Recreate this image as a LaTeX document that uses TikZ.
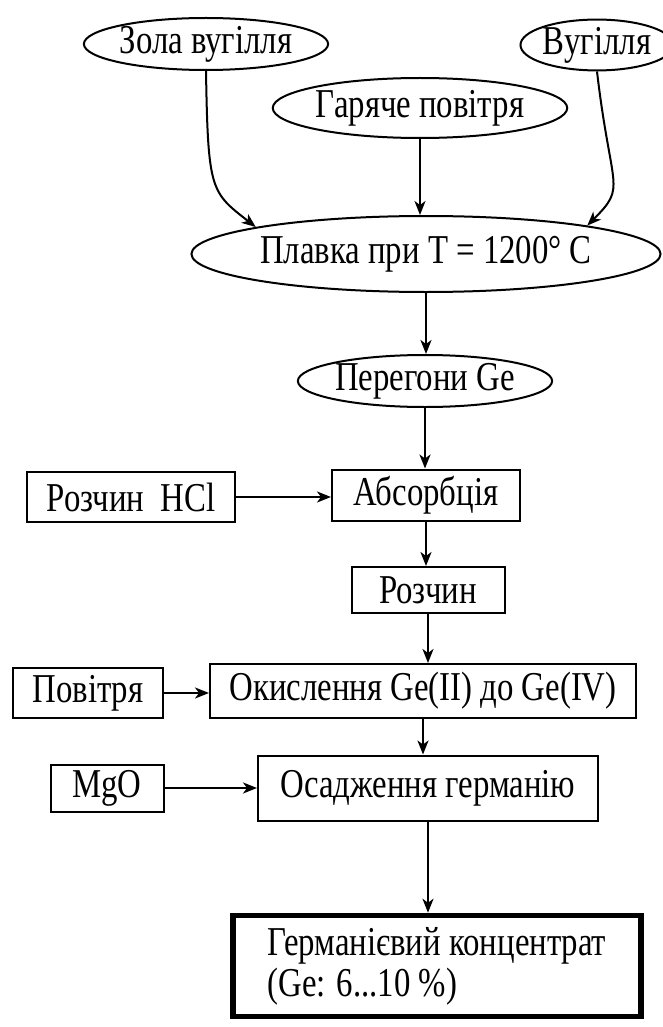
\documentclass[tikz,border=0pt]{standalone}
\usepackage{fontspec}
\setmainfont{Liberation Serif}[FakeStretch=0.8]
\usetikzlibrary{arrows.meta,shapes.geometric}

\tikzset{
  every node/.style={font=\fontsize{41}{41}\selectfont, inner sep=0pt},
  oval/.style={ellipse, draw, line width=2pt},
  stepbox/.style={rectangle, draw, line width=2pt},
  finalbox/.style={rectangle, draw, line width=5.5pt},
  arr/.style={line width=2pt, -{Stealth[length=14pt,width=11pt,inset=4pt]}},
}

\begin{document}
\begin{tikzpicture}[x=1pt,y=-1pt]
\useasboundingbox (0,0) rectangle (663,1027);

% raw materials
\node[oval, minimum width=212pt, minimum height=52pt] (zola) at (206,44) {Зола вугілля};
\node[oval, minimum width=128pt, minimum height=50pt] (vug)  at (597,45) {Вугілля};
\node[oval, minimum width=290pt, minimum height=60pt] (hot)  at (420,108) {Гаряче повітря};

% melting and distillation
\node[oval, minimum width=410pt, minimum height=76pt] (melt) at (426,254) {Плавка при T = 1200° C};
\node[oval, minimum width=228pt, minimum height=52pt] (dist) at (425,381) {Перегони Ge};

% process steps
\node[stepbox, minimum width=188pt, minimum height=51pt] (abs)  at (426,495) {Абсорбція};
\node[stepbox, minimum width=208pt, minimum height=50pt] (hcl)  at (131,497) {Розчин\ \ HCl};
\node[stepbox, minimum width=153pt, minimum height=46pt] (sol)  at (428,590) {Розчин};
\node[stepbox, minimum width=150pt, minimum height=50pt] (air)  at (88,693) {Повітря};
\node[stepbox, minimum width=426pt, minimum height=54pt] (oxid) at (423,691) {Окислення Ge(II) до Ge(IV)};
\node[stepbox, minimum width=113pt, minimum height=47pt] (mgo)  at (107,788) {MgO};
\node[stepbox, minimum width=340pt, minimum height=65pt] (prec) at (428,788) {Осадження германію};

% product
\node[finalbox, minimum width=408pt, minimum height=101pt, align=left] (conc) at (437,966)
  {Германієвий концентрат\\(Ge: 6...10 \%)};

% feeds into the melt
\draw[arr] (zola.south) .. controls +(2,120) and +(-45,-35) .. (melt.171);
\draw[arr] (vug.south) .. controls +(14,120) and +(40,-40) .. (melt.10);
\draw[arr] (hot.south) -- (hot.south |- melt.north);

% main line
\draw[arr] (melt.south) -- (melt.south |- dist.north);
\draw[arr] (dist.south) -- (dist.south |- abs.north);
\draw[arr] (abs.south) -- (abs.south |- sol.north);
\draw[arr] (sol.south) -- (sol.south |- oxid.north);
\draw[arr] (oxid.south) -- (oxid.south |- prec.north);
\draw[arr] (prec.south) -- (prec.south |- conc.north);

% side feeds
\draw[arr] (hcl.east) -- (hcl.east -| abs.west);
\draw[arr] (air.east) -- (air.east -| oxid.west);
\draw[arr] (mgo.east) -- (mgo.east -| prec.west);
\end{tikzpicture}
\end{document}
